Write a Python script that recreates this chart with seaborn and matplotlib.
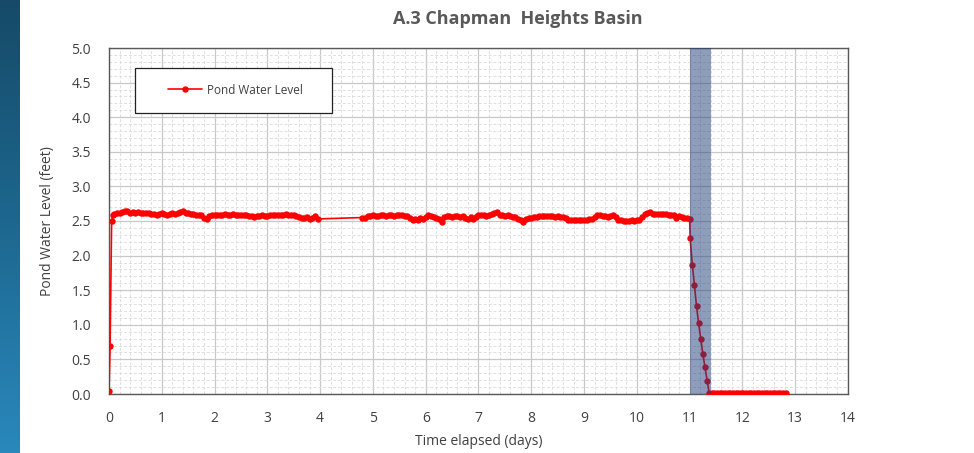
import numpy as np
import pandas as pd
import matplotlib.pyplot as plt
import seaborn as sns
from matplotlib.ticker import MultipleLocator
from matplotlib.patches import Rectangle

# start-up readings (fill of the basin)
t_start = [0.00, 0.02, 0.05, 0.08]
level_start = [0.05, 0.69, 2.50, 2.59]

# first logging period, every 0.05 days from 0.10
level_a = [2.60, 2.61, 2.62, 2.63, 2.64, 2.64, 2.62, 2.63, 2.62, 2.63,
           2.62, 2.61, 2.62, 2.61, 2.60, 2.60, 2.59, 2.60, 2.62, 2.60,
           2.59, 2.60, 2.61, 2.60, 2.61, 2.63, 2.65, 2.62, 2.61, 2.60,
           2.60, 2.59, 2.59, 2.58, 2.55, 2.53, 2.57, 2.59, 2.58, 2.59,
           2.58, 2.59, 2.60, 2.59, 2.59, 2.60, 2.59, 2.58, 2.59, 2.58,
           2.58, 2.57, 2.57, 2.56, 2.57, 2.57, 2.58, 2.57, 2.57, 2.58,
           2.58, 2.58, 2.59, 2.59, 2.59, 2.60, 2.59, 2.58, 2.58, 2.57,
           2.56, 2.55, 2.54, 2.56, 2.53, 2.55, 2.57, 2.53]

# second logging period, every 0.05 days from 4.80
level_b = [2.55, 2.54, 2.57, 2.57, 2.58, 2.57, 2.57, 2.58, 2.58, 2.57,
           2.58, 2.58, 2.57, 2.58, 2.58, 2.58, 2.57, 2.57, 2.55, 2.52,
           2.53, 2.52, 2.54, 2.53, 2.56, 2.59, 2.57, 2.56, 2.55, 2.53,
           2.49, 2.56, 2.57, 2.57, 2.56, 2.57, 2.57, 2.56, 2.57, 2.55,
           2.53, 2.56, 2.53, 2.56, 2.58, 2.59, 2.58, 2.57, 2.58, 2.60,
           2.62, 2.63, 2.59, 2.58, 2.57, 2.58, 2.57, 2.56, 2.56, 2.53,
           2.51, 2.49, 2.53, 2.55, 2.55, 2.56, 2.56, 2.57, 2.57, 2.57,
           2.57, 2.57, 2.57, 2.56, 2.57, 2.56, 2.56, 2.55, 2.52, 2.51,
           2.52, 2.52, 2.52, 2.52, 2.52, 2.52, 2.53, 2.53, 2.56, 2.59,
           2.58, 2.57, 2.57, 2.56, 2.57, 2.58, 2.56, 2.52, 2.51, 2.50,
           2.50, 2.50, 2.51, 2.50, 2.51, 2.51, 2.56, 2.60, 2.62, 2.63,
           2.60, 2.60, 2.60, 2.60, 2.60, 2.60, 2.59, 2.59, 2.58, 2.55,
           2.57, 2.56, 2.54, 2.55, 2.53]

# drawdown
t_drop = [11.01, 11.05, 11.09, 11.13, 11.17, 11.21, 11.25, 11.29, 11.33]
level_drop = [2.25, 1.87, 1.58, 1.27, 1.02, 0.80, 0.58, 0.39, 0.19]

# empty basin, every 0.05 days from 11.37
level_empty = [0.01, 0.01, 0.01, 0.01, 0.01, 0.01, 0.01, 0.01, 0.01, 0.01,
               0.01, 0.01, 0.01, 0.01, 0.01, 0.01, 0.01, 0.01, 0.01, 0.01,
               0.01, 0.01, 0.01, 0.01, 0.01, 0.01, 0.01, 0.01, 0.01, 0.01]

band_start, band_end = 11.0, 11.4

STEP = 0.05
t_a = 0.10 + STEP * np.arange(len(level_a))
t_b = 4.80 + STEP * np.arange(len(level_b))
t_empty = 11.37 + STEP * np.arange(len(level_empty))

df = pd.DataFrame({
    "t": np.concatenate([t_start, t_a, t_b, t_drop, t_empty]),
    "level": np.concatenate([level_start, level_a, level_b, level_drop, level_empty]),
})

sns.set_style("white")
plt.rcParams["font.family"] = ["Open Sans", "DejaVu Sans"]

fig = plt.figure(figsize=(9.74, 4.53), dpi=100)

# slide background strip on the left
bg = fig.add_axes([0, 0, 20 / 974, 1])
grad = np.linspace(0, 1, 256).reshape(-1, 1)
bg.imshow(grad, aspect="auto", cmap=sns.blend_palette(["#164a68", "#1d6890", "#2a88bc"], as_cmap=True),
          extent=[0, 1, 0, 1], origin="upper")
bg.set_axis_off()

ax = fig.add_axes([109 / 974, 59 / 453, 739 / 974, 346 / 453])

sns.lineplot(data=df, x="t", y="level", sort=False, estimator=None, ax=ax,
             color="#ff0000", linewidth=1.2, marker="o", markersize=4.6,
             markeredgewidth=0, label="Pond Water Level", zorder=3)

ax.axvspan(band_start, band_end, color="#1f3d7a", alpha=0.5, lw=0, zorder=4)

ax.set_xlim(0, 14)
ax.set_ylim(0, 5)
ax.xaxis.set_major_locator(MultipleLocator(1))
ax.xaxis.set_minor_locator(MultipleLocator(0.2))
ax.yaxis.set_major_locator(MultipleLocator(0.5))
ax.yaxis.set_minor_locator(MultipleLocator(0.1))
ax.yaxis.set_major_formatter(plt.FormatStrFormatter("%.1f"))
ax.grid(which="major", color="#c8c8c8", linewidth=0.9, zorder=0)
ax.grid(which="minor", color="#dedede", linewidth=0.7, linestyle=(0, (3, 2)), zorder=0)
ax.set_axisbelow(True)
ax.tick_params(which="both", length=0, labelsize=10, labelcolor="#404040")
ax.tick_params(axis="x", pad=12)
ax.tick_params(axis="y", pad=13)
for s in ax.spines.values():
    s.set_color("#595959")
    s.set_linewidth(1)

ax.set_xlabel("Time elapsed (days)", fontsize=10, color="#404040", labelpad=6)
ax.set_ylabel("Pond Water Level (feet)", fontsize=10, color="#404040", labelpad=12)

# legend box (wide white frame as in the source chart)
ax.add_patch(Rectangle(((135 - 109) / 739, (394 - 113) / 346), 197 / 739, 45 / 346,
                       transform=ax.transAxes, facecolor="white", edgecolor="#222222",
                       linewidth=0.9, zorder=5))
leg = ax.legend(loc="center left", bbox_to_anchor=((168 - 109) / 739, (394 - 90) / 346),
                frameon=False, fontsize=8.5, handlelength=2.9, borderpad=0,
                borderaxespad=0, handletextpad=0.4)
leg.set_zorder(6)
for txt in leg.get_texts():
    txt.set_color("#404040")

fig.text(518 / 974, 1 - 19 / 453, "A.3 Chapman  Heights Basin", ha="center", va="center",
         fontsize=13, fontweight="bold", color="#595959")

fig.savefig("out.png", dpi=100)
